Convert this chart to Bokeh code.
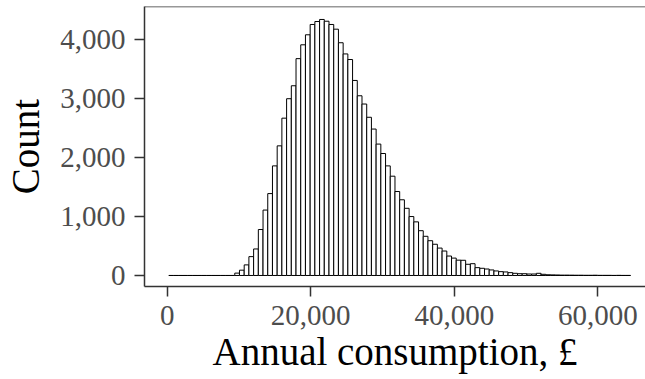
from bokeh.plotting import figure
from bokeh.models import FixedTicker, NumeralTickFormatter, Range1d, Span, ColumnDataSource
from bokeh.embed import file_html
from bokeh.resources import INLINE

# histogram data: counts per bin of annual consumption (£)
bin_first_edge = 223.0
bin_width = 656.5
counts = [
    0, 0, 0, 0, 0, 0, 0, 0, 0, 0, 0, 0, 0, 0,
    40, 90, 180, 320, 450, 780, 1110, 1390, 1860, 2200,
    2670, 3000, 3220, 3680, 3915, 4085, 4260, 4310, 4345, 4315,
    4260, 4180, 3950, 3760, 3665, 3310, 3050, 2910, 2685, 2485,
    2230, 2070, 1860, 1685, 1425, 1285, 1140, 1000, 910, 760,
    665, 590, 530, 465, 415, 330, 295, 260, 258, 190,
    200, 133, 122, 110, 94, 77, 65, 60, 48, 37,
    30, 30, 25, 25, 37, 20, 12, 10, 8, 6,
    6, 5, 4, 4, 3, 3, 4, 2, 2, 2,
    1, 2, 1, 1,
]
x_ticks = [0, 20000, 40000, 60000]
y_ticks = [0, 1000, 2000, 3000, 4000]
x_title = "Annual consumption, £"
y_title = "Count"

lefts = [bin_first_edge + i * bin_width for i in range(len(counts))]
rights = [l + bin_width for l in lefts]
src = ColumnDataSource(dict(left=lefts, right=rights, top=counts, bottom=[0] * len(counts)))

FONT = "Liberation Serif"
AX = "#333333"

p = figure(width=645, height=379, output_backend="svg", toolbar_location=None,
           x_range=Range1d(-3163, 66640), y_range=Range1d(-187, 4565),
           min_border_left=144, min_border_right=0, min_border_top=6, min_border_bottom=93)

p.quad(left="left", right="right", top="top", bottom="bottom", source=src,
       fill_color="white", line_color="black", line_width=1)

p.outline_line_color = None
p.xgrid.visible = False
p.ygrid.visible = False
p.background_fill_color = "white"
p.border_fill_color = "white"

p.add_layout(Span(location=4565, dimension="width", line_color=AX, line_width=1.5))

for ax in (p.xaxis[0], p.yaxis[0]):
    ax.axis_line_color = AX
    ax.axis_line_width = 1.5
    ax.major_tick_line_color = AX
    ax.major_tick_line_width = 1.5
    ax.major_tick_out = 10
    ax.major_tick_in = 0
    ax.minor_tick_line_color = None
    ax.major_label_text_font = FONT
    ax.major_label_text_font_size = "29px"
    ax.major_label_text_color = "#4d4d4d"
    ax.major_label_standoff = 9
    ax.axis_label_text_font = FONT
    ax.axis_label_text_font_size = "39px"
    ax.axis_label_text_color = "black"
    ax.axis_label_text_font_style = "normal"

p.xaxis.ticker = FixedTicker(ticks=x_ticks)
p.yaxis.ticker = FixedTicker(ticks=y_ticks)
p.xaxis.formatter = NumeralTickFormatter(format="0,0")
p.yaxis.formatter = NumeralTickFormatter(format="0,0")
p.xaxis.axis_label = x_title
p.yaxis.axis_label = y_title
p.xaxis.axis_label_standoff = 2
p.yaxis.axis_label_standoff = 10

open("out.html", "w").write(file_html(p, INLINE))
